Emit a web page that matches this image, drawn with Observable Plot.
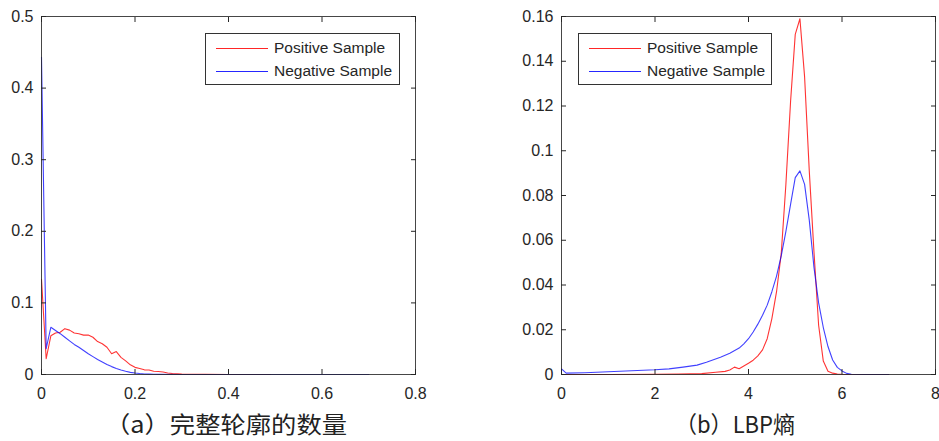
<!DOCTYPE html>
<html>
<head>
<meta charset="utf-8">
<script src="https://cdn.jsdelivr.net/npm/d3@7"></script>
<script src="https://cdn.jsdelivr.net/npm/@observablehq/plot@0.6"></script>
<style>
  html, body { margin: 0; padding: 0; background: #fff; }
  #wrap { position: relative; width: 939px; height: 441px; overflow: hidden; background: #fff; }
  .panel { position: absolute; top: 0; }
  .legend { position: absolute; box-sizing: border-box; border: 1px solid #333; background: #fff;
            font-family: "Liberation Sans", Arial, sans-serif; font-size: 15.5px; color: #262626; }
  .legend .row { position: absolute; left: 0; height: 20px; line-height: 20px; white-space: nowrap; }
  .legend .sw { position: absolute; height: 0; border-top: 1px solid; width: 52px; left: 10px; top: 10px; }
  .legend .lab { position: absolute; left: 68px; top: 0; }
  #captions { position: absolute; left: 0; top: 0; pointer-events: none; }
</style>
</head>
<body>
<div id="wrap"></div>
<script>
// ---------- data ----------
const seriesNames = ["Positive Sample", "Negative Sample"];
const seriesColors = ["#ff0000", "#0000ff"];
const captions = ["（a）完整轮廓的数量", "（b）LBP熵"];

// (a) number of complete contours
const aPosX = [0, 0.01, 0.02, 0.03, 0.04, 0.05, 0.06, 0.07, 0.08, 0.09, 0.10, 0.11, 0.12, 0.13, 0.14, 0.15, 0.16, 0.17, 0.18, 0.19, 0.20, 0.21, 0.22, 0.23, 0.24, 0.25, 0.26, 0.27, 0.28, 0.29, 0.30, 0.35, 0.40, 0.45, 0.49];
const aPosY = [0.133, 0.022, 0.054, 0.058, 0.059, 0.064, 0.062, 0.058, 0.057, 0.055, 0.055, 0.052, 0.046, 0.043, 0.038, 0.029, 0.032, 0.024, 0.019, 0.0135, 0.010, 0.0085, 0.0065, 0.0062, 0.0045, 0.0042, 0.0035, 0.0022, 0.0015, 0.001, 0.0005, 0.0002, 0.0001, 0, 0];
const aNegX = [0, 0.01, 0.02, 0.03, 0.04, 0.05, 0.06, 0.07, 0.08, 0.09, 0.10, 0.11, 0.12, 0.13, 0.14, 0.15, 0.16, 0.17, 0.18, 0.19, 0.20, 0.21, 0.22, 0.23, 0.24, 0.25, 0.30, 0.40, 0.50, 0.60, 0.70];
const aNegY = [0.443, 0.036, 0.066, 0.0615, 0.057, 0.052, 0.047, 0.042, 0.038, 0.0335, 0.029, 0.025, 0.021, 0.0175, 0.014, 0.011, 0.0085, 0.0063, 0.0045, 0.003, 0.002, 0.0013, 0.0008, 0.0005, 0.0003, 0.0002, 0.0001, 0, 0, 0, 0];

// (b) LBP entropy
const bPosX = [0, 1.0, 2.0, 2.5, 3.0, 3.3, 3.5, 3.6, 3.7, 3.8, 3.9, 4.0, 4.1, 4.2, 4.3, 4.4, 4.5, 4.6, 4.7, 4.8, 4.9, 5.0, 5.1, 5.2, 5.3, 5.4, 5.5, 5.6, 5.7, 5.8, 5.9, 6.0, 6.5, 7.0];
const bPosY = [0, 0, 0.0001, 0.0002, 0.0004, 0.001, 0.0014, 0.002, 0.0033, 0.0026, 0.0038, 0.005, 0.0064, 0.0083, 0.011, 0.016, 0.025, 0.037, 0.054, 0.085, 0.122, 0.152, 0.159, 0.133, 0.091, 0.055, 0.022, 0.006, 0.0015, 0.0006, 0.0002, 0.0001, 0, 0];
const bNegX = [0, 0.1, 0.5, 1.0, 1.5, 2.0, 2.3, 2.6, 2.9, 3.1, 3.4, 3.6, 3.8, 3.9, 4.0, 4.1, 4.2, 4.3, 4.4, 4.5, 4.6, 4.7, 4.8, 4.9, 5.0, 5.1, 5.2, 5.3, 5.4, 5.5, 5.6, 5.7, 5.8, 5.9, 6.0, 6.1, 6.2, 6.5, 7.0];
const bNegY = [0.0025, 0.0006, 0.0008, 0.0012, 0.0017, 0.0021, 0.0025, 0.0033, 0.0042, 0.0055, 0.0077, 0.0095, 0.0118, 0.0137, 0.016, 0.019, 0.0225, 0.0265, 0.031, 0.037, 0.044, 0.053, 0.064, 0.076, 0.088, 0.091, 0.085, 0.069, 0.048, 0.032, 0.021, 0.0125, 0.0065, 0.0032, 0.0016, 0.0005, 0.0001, 0, 0];

// ticks
const aXTicks = [0, 0.2, 0.4, 0.6, 0.8];
const aYTicks = [0, 0.1, 0.2, 0.3, 0.4, 0.5];
const bXTicks = [0, 2, 4, 6, 8];
const bYTicks = [0, 0.02, 0.04, 0.06, 0.08, 0.1, 0.12, 0.14, 0.16];

// ---------- build ----------
const toRows = (xs, ys) => xs.map((x, i) => ({x, y: ys[i]}));
const axisColor = "#262626";
const fmt = d => String(d);

function panel({posX, posY, negX, negY, xDomain, yDomain, xTicks, yTicks, width, marginLeft, marginRight}) {
  return Plot.plot({
    width, height: 405,
    marginLeft, marginRight, marginTop: 16, marginBottom: 31,
    x: {domain: xDomain},
    y: {domain: yDomain},
    style: {fontFamily: "'Liberation Sans', Arial, sans-serif", fontSize: "16px", color: axisColor, background: "#fff", overflow: "visible"},
    marks: [
      Plot.line(toRows(posX, posY), {x: "x", y: "y", stroke: seriesColors[0], strokeWidth: 1.1, strokeOpacity: 0.8}),
      Plot.line(toRows(negX, negY), {x: "x", y: "y", stroke: seriesColors[1], strokeWidth: 1.1, strokeOpacity: 0.75}),
      Plot.frame({stroke: axisColor, strokeOpacity: 0.85}),
      Plot.axisX({anchor: "bottom", ticks: xTicks, tickFormat: fmt, tickSize: -5, tickPadding: 18, label: null}),
      Plot.axisX({anchor: "top", ticks: xTicks, tickSize: -5, fill: "none", label: null}),
      Plot.axisY({anchor: "left", ticks: yTicks, tickFormat: fmt, tickSize: -5, tickPadding: 13, label: null}),
      Plot.axisY({anchor: "right", ticks: yTicks, tickSize: -5, fill: "none", label: null})
    ]
  });
}

const wrap = document.getElementById("wrap");

const charts = [
  {plot: panel({posX: aPosX, posY: aPosY, negX: aNegX, negY: aNegY, xDomain: [0, 0.8], yDomain: [0, 0.5], xTicks: aXTicks, yTicks: aYTicks, width: 470, marginLeft: 41, marginRight: 55}),
   left: 0, legend: {left: 205, top: 33, width: 195, height: 52}},
  {plot: panel({posX: bPosX, posY: bPosY, negX: bNegX, negY: bNegY, xDomain: [0, 8], yDomain: [0, 0.16], xTicks: bXTicks, yTicks: bYTicks, width: 469, marginLeft: 91, marginRight: 4}),
   left: 470, legend: {left: 578, top: 33, width: 194, height: 52}}
];

for (const c of charts) {
  const p = document.createElement("div");
  p.className = "panel";
  p.style.left = c.left + "px";
  p.appendChild(c.plot);
  wrap.appendChild(p);

  const lg = document.createElement("div");
  lg.className = "legend";
  Object.assign(lg.style, {left: c.legend.left + "px", top: c.legend.top + "px", width: c.legend.width + "px", height: c.legend.height + "px"});
  seriesNames.forEach((name, i) => {
    const row = document.createElement("div");
    row.className = "row";
    row.style.top = (4 + i * 23) + "px";
    row.style.width = "100%";
    const sw = document.createElement("div");
    sw.className = "sw";
    sw.style.borderTopColor = seriesColors[i];
    sw.style.opacity = 0.85;
    const lab = document.createElement("span");
    lab.className = "lab";
    lab.textContent = name;
    row.appendChild(sw);
    row.appendChild(lab);
    lg.appendChild(row);
  });
  wrap.appendChild(lg);
}

// captions
const capSvg = d3.select(wrap).append("svg")
  .attr("id", "captions")
  .attr("width", 939).attr("height", 441);
const capSpecs = [{x: 105, w: 242}, {x: 675, w: 120}];
captions.forEach((t, i) => {
  capSvg.append("text")
    .attr("x", capSpecs[i].x)
    .attr("y", 433)
    .attr("textLength", capSpecs[i].w)
    .attr("lengthAdjust", "spacingAndGlyphs")
    .attr("font-family", "'Noto Sans CJK SC', sans-serif")
    .attr("font-size", 23)
    .attr("fill", "#222")
    .text(t);
});
</script>
</body>
</html>
